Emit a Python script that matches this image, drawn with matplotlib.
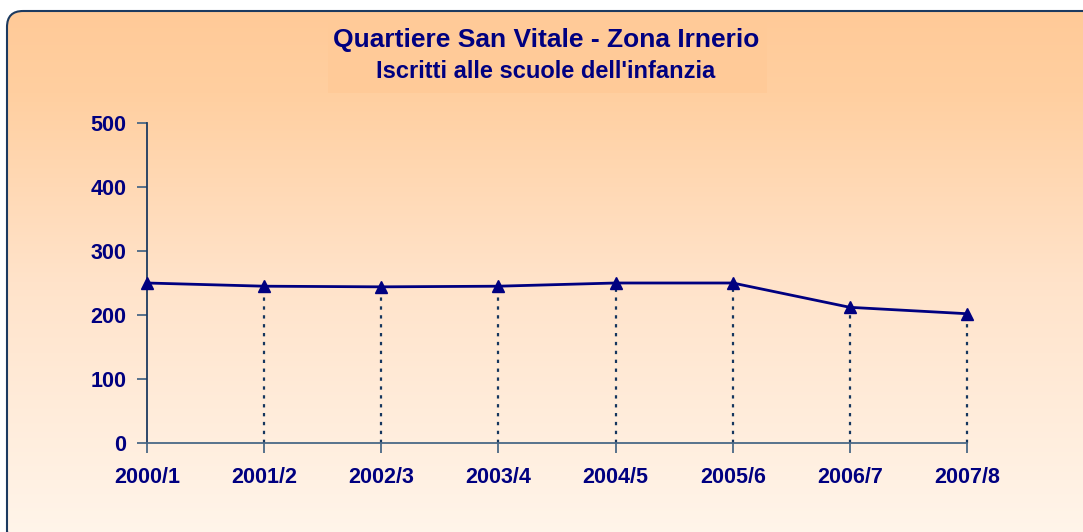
import matplotlib.pyplot as plt
import numpy as np
from matplotlib.patches import FancyBboxPatch, Rectangle
from matplotlib.colors import LinearSegmentedColormap

anni = ['2000/1', '2001/2', '2002/3', '2003/4', '2004/5', '2005/6', '2006/7', '2007/8']
iscritti = [250, 245, 244, 245, 250, 250, 212, 202]
y_ticks = [0, 100, 200, 300, 400, 500]

navy = '#000080'
spine_col = '#4a6886'

plt.rcParams['font.family'] = ['Liberation Sans', 'DejaVu Sans']
plt.rcParams['font.weight'] = 'bold'

W, H = 1083, 532
fig = plt.figure(figsize=(W / 100, H / 100), dpi=100)
fig.patch.set_facecolor('white')

# background panel with gradient, rounded corner
bg = fig.add_axes([0, 0, 1, 1])
bg.set_xlim(0, W)
bg.set_ylim(H, 0)
bg.axis('off')
cmap = LinearSegmentedColormap.from_list(
    'pesca', [(0, '#FFCA98'), (0.15, '#FFCFA0'), (0.5, '#FFE3CA'), (1, '#FFF6EC')])
grad = np.linspace(0, 1, 256).reshape(-1, 1)
img = bg.imshow(grad, cmap=cmap, extent=[7, W + 30, H + 20, 11], aspect='auto', zorder=0)
box = FancyBboxPatch((7, 11), W + 20, H + 5, boxstyle='round,pad=0,rounding_size=16',
                     fc='none', ec='#1c3a60', lw=1.5, zorder=2)
bg.add_patch(box)
img.set_clip_path(box)
# title box
bg.add_patch(Rectangle((328, 20), 439, 73, fc='#FFCA98', ec='none', zorder=1))

# titles
fig.text(546 / W, 1 - 40 / H, 'Quartiere San Vitale - Zona Irnerio', ha='center', va='center',
         fontsize=19, fontweight='bold', color=navy)
fig.text(546 / W, 1 - 72 / H, "Iscritti alle scuole dell'infanzia", ha='center', va='center',
         fontsize=17, fontweight='bold', color=navy)

# main chart
ax = fig.add_axes([147 / W, 1 - 443 / H, (967 - 147) / W, (443 - 123) / H])
ax.patch.set_alpha(0)
x = np.arange(len(anni))
ax.vlines(x[1:], 0, iscritti[1:], colors='#15365e', linestyles=(0, (1.5, 2.5)), lw=1.6,
          zorder=2, clip_on=False)
ax.plot(x, iscritti, color=navy, lw=2, marker='^', ms=8, clip_on=False, zorder=3)

ax.set_xlim(0, len(anni) - 1)
ax.set_ylim(0, 500)
ax.set_xticks(x)
ax.set_xticklabels(anni)
ax.set_yticks(y_ticks)

for s in ['top', 'right']:
    ax.spines[s].set_visible(False)
for s in ['left', 'bottom']:
    ax.spines[s].set_color(spine_col)
    ax.spines[s].set_linewidth(1.3)
ax.spines['left'].set_color('#1c3a60')

ax.tick_params(axis='both', direction='out', length=7, width=1.3, color=spine_col,
               labelcolor=navy, labelsize=15.5)
ax.tick_params(axis='x', pad=10)
ax.tick_params(axis='y', pad=8)
for lab in ax.get_xticklabels() + ax.get_yticklabels():
    lab.set_fontweight('bold')

fig.savefig('out.png', dpi=100)
